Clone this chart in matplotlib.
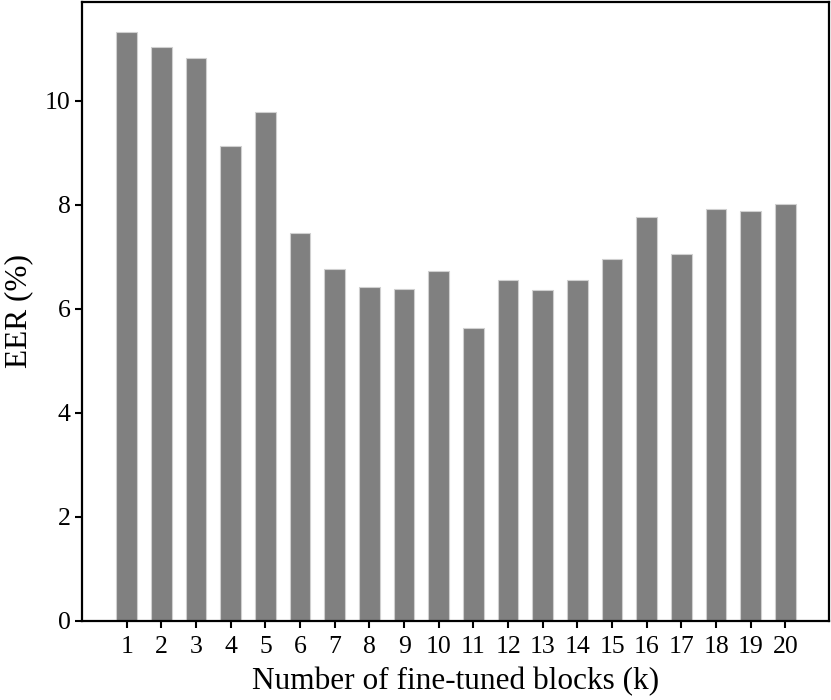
import matplotlib
matplotlib.use("Agg")
import matplotlib.pyplot as plt

plt.rcParams["font.family"] = ["Liberation Serif", "DejaVu Serif"]

blocks = list(range(1, 21))
eer = [11.33, 11.03, 10.83, 9.12, 9.79, 7.46, 6.76, 6.41, 6.38, 6.73,
       5.63, 6.56, 6.35, 6.55, 6.96, 7.77, 7.05, 7.92, 7.88, 8.01]
tick_labels = [str(b) for b in blocks]

fig = plt.figure(figsize=(8.31, 7.0), dpi=100)
ax = fig.add_axes([0.0987, 0.1133, 0.899, 0.884])

ax.bar(blocks, eer, width=0.6, color="#808080", edgecolor="#d0d0d0", linewidth=0.8)

ax.set_xticks(blocks, tick_labels)
ax.set_xlim(-0.29, 21.26)
ax.set_ylim(0, 11.9)
ax.set_yticks([0, 2, 4, 6, 8, 10])

ax.tick_params(axis="both", labelsize=18.5, length=4.8, width=1.5, color="black")
ax.tick_params(axis="x", pad=6)
for s in ax.spines.values():
    s.set_linewidth(1.6)

ax.set_xlabel("Number of fine-tuned blocks (k)", fontsize=22.5, labelpad=7)
ax.set_ylabel("EER (%)", fontsize=22.5, labelpad=8)

fig.savefig("out.png", dpi=100)
